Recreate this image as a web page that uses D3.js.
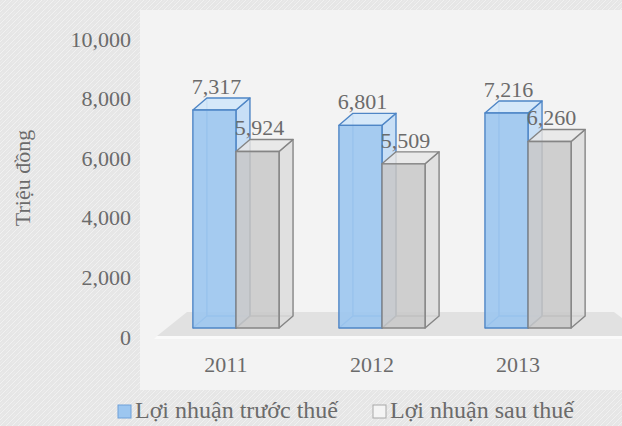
<!DOCTYPE html>
<html>
<head>
<meta charset="utf-8">
<script src="https://cdn.jsdelivr.net/npm/d3@7"></script>
<style>
  html, body { margin: 0; padding: 0; background: #e8e8e8; }
  svg { display: block; }
</style>
</head>
<body>
<svg id="chart" width="622" height="426"></svg>
<script>
// Profit figures (million VND) per year
const years = ["2011", "2012", "2013"];
const seriesNames = ["Lợi nhuận trước thuế", "Lợi nhuận sau thuế"];
const beforeTax = [7317, 6801, 7216];
const afterTax = [5924, 5509, 6260];
const yTicks = [0, 2000, 4000, 6000, 8000, 10000];
const yTitle = "Triệu đồng";

const W = 622, H = 426;
const FONT = "'Liberation Serif', 'Times New Roman', Times, serif";
const svg = d3.select("#chart")
  .attr("font-family", FONT)
  .style("font-family", FONT);

// Background texture
const defs = svg.append("defs");
const pat = defs.append("pattern")
  .attr("id", "grain").attr("width", 6).attr("height", 6)
  .attr("patternUnits", "userSpaceOnUse");
pat.append("rect").attr("width", 6).attr("height", 6).attr("fill", "#e6e6e6");
pat.append("path").attr("d", "M0,6 L6,0").attr("stroke", "#f1f1f1").attr("stroke-width", 1);
pat.append("path").attr("d", "M0,3 L3,0").attr("stroke", "#ececec").attr("stroke-width", 0.6);

svg.append("rect").attr("width", W).attr("height", H).attr("fill", "url(#grain)");
// Plot area
svg.append("rect").attr("x", 140).attr("y", 10).attr("width", W - 140).attr("height", 380)
  .attr("fill", "#f3f3f3");

// Scales (front plane of the 3D columns)
const y = d3.scaleLinear().domain([0, 10000]).range([328, 30]);
const x0 = d3.scaleBand().domain(years).range([133, 631]).paddingInner(0.41).paddingOuter(0.41);
const x1 = d3.scaleBand().domain([0, 1]).range([0, x0.bandwidth()]);
const dx = 14, dy = -12;

// Floor
const floorBack = y(0) + dy - 4, floorFront = y(0) + 8;
svg.append("polygon")
  .attr("points", [[187, floorBack], [614, floorBack], [W, floorBack + 6], [W, floorFront], [157, floorFront]].join(" "))
  .attr("fill", "#e1e1e1");
svg.append("polygon")
  .attr("points", [[157, floorFront], [W, floorFront], [W, floorFront + 3], [154, floorFront + 3]].join(" "))
  .attr("fill", "#fafafa");

function label(sel, size) {
  return sel.attr("font-family", FONT).style("font-family", FONT)
    .style("font-size", size + "px").attr("fill", "#6b6b6b");
}

// Y tick labels
label(svg.append("g").selectAll("text").data(yTicks).join("text"), 22)
  .attr("x", 131).attr("y", d => y(d) + 9)
  .attr("text-anchor", "end").attr("dominant-baseline", "central")
  .text(d => d3.format(",")(d));

// Y axis title
label(svg.append("text"), 22)
  .attr("transform", "translate(22,178) rotate(-90)")
  .attr("text-anchor", "middle").attr("dominant-baseline", "central")
  .text(yTitle);

// Category labels
label(svg.append("g").selectAll("text").data(years).join("text"), 22)
  .attr("x", d => x0(d) + x0.bandwidth() / 2 - 10)
  .attr("y", 372)
  .attr("text-anchor", "middle")
  .text(d => d);

const styles = [
  { front: "#9cc6f0", side: "#c3ddf6", top: "#d2e7fa", stroke: "#4f86c6", op: 0.9 },
  { front: "#c8c8c8", side: "#dcdcdc", top: "#e6e6e6", stroke: "#858585", op: 0.85 }
];

const bars = [];
years.forEach((yr, i) => {
  [beforeTax[i], afterTax[i]].forEach((v, s) => {
    bars.push({ yr, s, v });
  });
});

const gBars = svg.append("g");
bars.forEach(b => {
  const st = styles[b.s];
  const xl = x0(b.yr) + x1(b.s), w = x1.bandwidth();
  const yt = y(b.v), yb = y(0);
  const g = gBars.append("g").attr("stroke", st.stroke).attr("stroke-width", 1.4)
    .attr("stroke-linejoin", "round");
  // hidden edges, seen through the translucent faces
  g.append("path")
    .attr("d", `M${xl + dx},${yt + dy} L${xl + dx},${yb + dy} L${xl + w + dx},${yb + dy} M${xl},${yb} L${xl + dx},${yb + dy}`)
    .attr("fill", "none").attr("stroke-opacity", 0.8);
  // right side
  g.append("polygon")
    .attr("points", [[xl + w, yt], [xl + w + dx, yt + dy], [xl + w + dx, yb + dy], [xl + w, yb]].join(" "))
    .attr("fill", st.side).attr("fill-opacity", st.op);
  // top
  g.append("polygon")
    .attr("points", [[xl, yt], [xl + dx, yt + dy], [xl + w + dx, yt + dy], [xl + w, yt]].join(" "))
    .attr("fill", st.top).attr("fill-opacity", st.op);
  // front
  g.append("rect")
    .attr("x", xl).attr("y", yt).attr("width", w).attr("height", yb - yt)
    .attr("fill", st.front).attr("fill-opacity", st.op);
});

// Value labels
label(svg.append("g").selectAll("text").data(bars).join("text"), 22)
  .attr("x", d => x0(d.yr) + x1(d.s) + x1.bandwidth() / 2 + 2)
  .attr("y", d => y(d.v) + dy - 4)
  .attr("text-anchor", "middle")
  .text(d => d3.format(",")(d.v));

// Legend
const legendX = [118, 373];
const lg = svg.append("g").selectAll("g").data(seriesNames).join("g")
  .attr("transform", (d, i) => `translate(${legendX[i]},405)`);
lg.append("rect").attr("width", 13).attr("height", 13)
  .attr("fill", (d, i) => i === 0 ? "#9cc6f0" : "#f4f4f4")
  .attr("stroke", (d, i) => i === 0 ? "#6fa0d8" : "#a8a8a8").attr("stroke-width", 1);
label(lg.append("text"), 24).attr("x", 17).attr("y", 13)
  .text(d => d);
</script>
</body>
</html>
